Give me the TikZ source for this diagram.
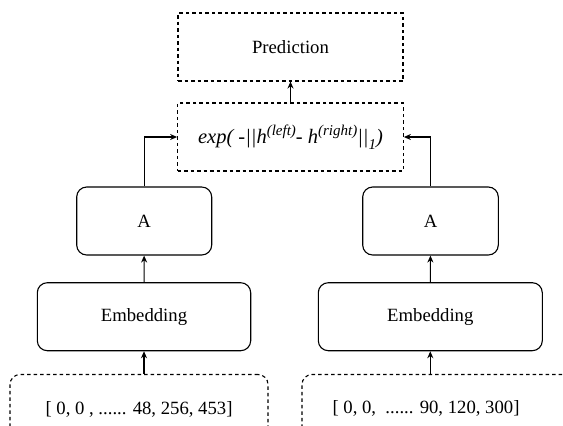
\documentclass[tikz,border=0pt]{standalone}
\usepackage{fontspec}
\setmainfont{Liberation Serif}
\usepackage{tikz}
\usetikzlibrary{positioning, arrows.meta, calc}

\begin{document}
\begin{tikzpicture}[
  x=1pt, y=-1pt,
  >={Stealth[length=7pt,width=6pt]},
  every node/.style={font=\fontsize{18.7}{22}\selectfont},
  box/.style={draw, line width=1.1pt, minimum height=68pt, inner sep=0pt},
  dashbox/.style={box, dash pattern=on 3.5pt off 3pt},
  roundbox/.style={box, rounded corners=10pt},
  inbox/.style={dashbox, rounded corners=10pt, minimum height=70pt},
  link/.style={->, line width=1.1pt}
]
\useasboundingbox (0,0) rectangle (563,426);
\clip (0,0) rectangle (563,426);

% Top: prediction and distance
\node[dashbox, minimum width=225pt] (pred) at (290.5, 47) {Prediction};
\node[dashbox, minimum width=225.6pt] (dist) at (290.5, 137)
  {\fontsize{20.5}{24}\selectfont\itshape exp( -||h\raisebox{0.42em}{\fontsize{15}{17}\selectfont(left)}- h\raisebox{0.42em}{\fontsize{15}{17}\selectfont(right)}||\raisebox{-0.28em}{\fontsize{15}{17}\selectfont 1})};

% Left branch
\node[roundbox, minimum width=135pt] (aleft) at (144.2, 221) {A};
\node[roundbox, minimum width=213.4pt] (embleft) at (144, 316.7) {Embedding};
\node[inbox, minimum width=258pt] (inleft) at (139, 409.5) {[ 0, 0 , ...... 48, 256, 453]};

% Right branch
\node[roundbox, minimum width=135.6pt] (aright) at (430.5, 221) {A};
\node[roundbox, minimum width=224pt] (embright) at (430.3, 316.7) {Embedding};
\node[inbox, minimum width=270pt] (inright) at (437, 409.5) {};
\node (intext) at (426, 408) {[ 0, 0,\ \ ...... 90, 120, 300]};

% Connectors
\draw[link] (embleft.south |- inleft.north) -- (embleft.south);
\draw[link] (embright.south |- inright.north) -- (embright.south);
\draw[link] (embleft) -- (aleft);
\draw[link] (embright) -- (aright);
\draw[link] (aleft.north) |- (dist.west);
\draw[link] (aright.north) |- (dist.east);
\draw[link] (dist) -- (pred);

\end{tikzpicture}
\end{document}
